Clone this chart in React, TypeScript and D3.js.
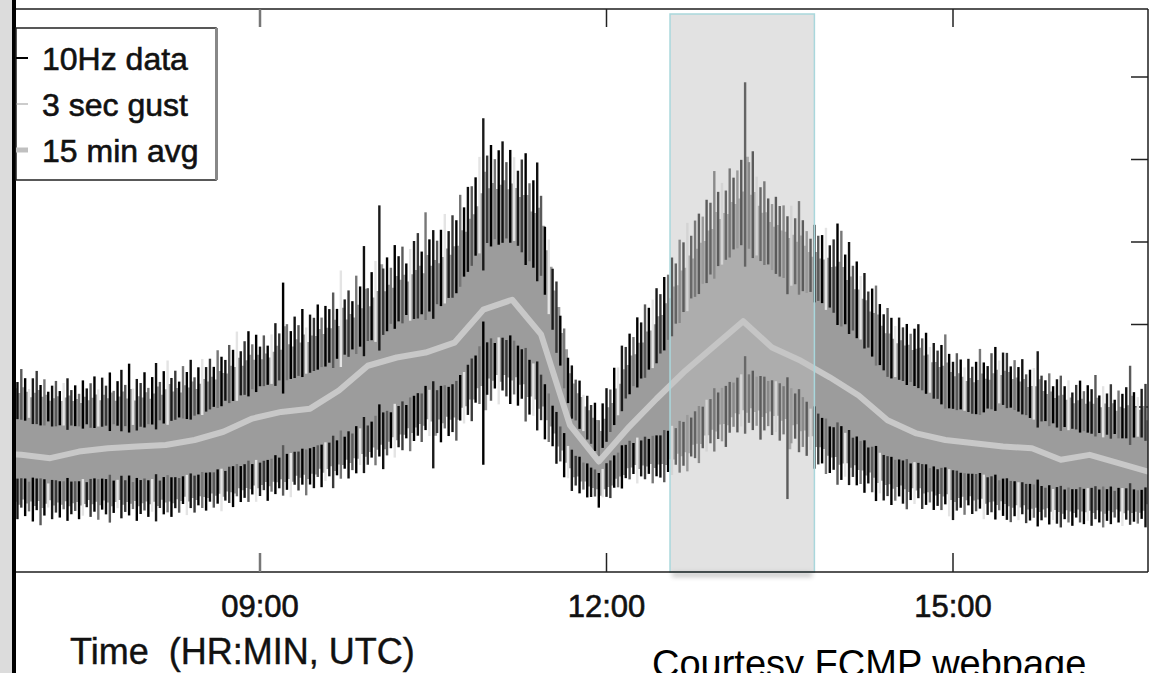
import React from "react";
import * as d3 from "d3";

const W = 1153;
const H = 673;

// ---- 15-minute series (UTC) ----
const avgTimes = [
  "06:41", "06:56", "07:11", "07:26", "07:41", "07:56", "08:11", "08:26", "08:41", "08:56",
  "09:11", "09:26", "09:41", "09:56", "10:11", "10:26", "10:41", "10:56", "11:11", "11:26",
  "11:41", "11:56", "12:11", "12:26", "12:41", "12:56", "13:11", "13:26", "13:41", "13:56",
  "14:11", "14:26", "14:41", "14:56", "15:11", "15:26", "15:41", "15:56", "16:11", "16:26",
  "16:41", "16:56",
];
// 15 min average wind speed
const avgSpeed = [
  7.2, 7.1, 6.9, 7.3, 7.5, 7.6, 7.7, 8.0, 8.5, 9.3,
  9.7, 9.9, 11.0, 12.5, 13.0, 13.3, 13.9, 15.9, 16.5, 14.4,
  8.9, 6.7, 8.7, 10.5, 12.2, 13.7, 15.2, 13.6, 12.8, 11.8,
  10.7, 9.2, 8.4, 8.0, 7.8, 7.6, 7.5, 6.8, 7.1, 6.6,
  6.1, 5.9,
];
// upper / lower envelope of the 10Hz data (15 min)
const upperEdge = [
  10.4, 10.3, 9.9, 9.8, 9.9, 9.8, 10.2, 10.5, 11.3, 12.1,
  12.7, 13.3, 14.1, 15.2, 16.5, 17.1, 18.3, 21.6, 21.9, 19.5,
  10.7, 8.0, 11.9, 14.1, 17.4, 19.8, 21.6, 19.8, 18.6, 17.4,
  15.6, 13.2, 12.5, 11.3, 10.7, 11.3, 10.4, 9.8, 9.5, 9.2,
  9.2, 9.2,
];
const lowerEdge = [
  4.8, 4.8, 4.7, 4.7, 4.8, 4.7, 4.8, 5.0, 5.3, 5.7,
  6.1, 6.5, 7.1, 7.9, 8.9, 9.8, 10.1, 12.5, 12.8, 10.7,
  6.5, 5.2, 6.9, 7.1, 8.0, 9.5, 10.7, 10.4, 9.5, 7.7,
  6.9, 5.9, 5.6, 5.2, 5.0, 4.7, 4.4, 4.2, 4.2, 4.2,
  4.1, 4.1,
];

// ---- 2-minute gust extremes, starting 06:52 UTC ----
const gustStart = "06:52";
const gustStepMin = 2;
// excursion above the upper envelope
const gustHigh = [
  1.8, 1.2, 2.0, 1.5, 0.9, 1.6, 2.1, 1.3, 1.7, 1.0,
  1.4, 1.7, 1.1, 1.6, 1.9, 1.2, 1.5, 1.0, 1.8, 1.3,
  1.6, 2.0, 1.2, 1.9, 1.4, 2.2, 1.1, 1.7, 2.4, 1.5,
  2.8, 1.3, 1.9, 1.6, 2.2, 1.2, 1.8, 2.6, 1.4, 2.0,
  2.6, 1.5, 1.9, 1.2, 2.1, 1.7, 2.4, 1.3, 1.8, 2.2,
  1.6, 2.0, 1.4, 2.3, 1.8, 1.5, 2.3, 1.9, 2.9, 1.6,
  2.1, 2.6, 1.7, 2.2, 1.4, 2.0, 1.3, 1.9, 2.5, 1.8,
  4.8, 2.2, 1.7, 2.5, 1.9, 2.8, 1.6, 2.3, 2.0, 2.7,
  1.8, 2.4, 2.1, 3.0, 1.9, 4.1, 2.2, 2.6, 1.8, 3.2,
  2.4, 4.7, 2.0, 2.8, 3.3, 6.5, 2.5, 3.0, 2.2, 3.4,
  2.6, 3.1, 2.0, 2.8, 3.2, 3.6, 2.4, 4.7, 2.9, 3.3,
  2.5, 3.0, 3.8, 2.6, 3.4, 2.8, 3.9, 2.7, 3.5, 3.1,
  3.2, 4.0, 5.9, 3.6, 4.2, 3.3, 3.8, 4.3, 3.0, 3.7,
  3.4, 2.9, 3.9, 4.6, 3.1, 3.6, 5.0, 3.3, 2.6, 3.0,
  2.4, 2.8, 1.9, 2.3, 1.7, 2.0, 1.5, 1.8, 1.3, 1.6,
  1.4, 1.9, 1.2, 1.7, 2.1, 1.5, 2.3, 1.8, 2.6, 2.0,
  2.4, 1.9, 2.8, 2.2, 3.0, 2.5, 2.7, 3.1, 2.3, 2.9,
  2.6, 3.2, 2.4, 3.4, 2.8, 3.6, 2.5, 3.1, 3.2, 2.7,
  3.4, 2.9, 4.5, 3.0, 3.3, 2.6, 3.7, 2.9, 3.1, 3.5,
  8.2, 3.6, 4.5, 3.2, 2.8, 3.4, 2.6, 2.5, 3.1, 2.7,
  2.9, 2.4, 3.2, 2.6, 3.8, 2.8, 2.3, 2.0, 3.0, 2.5,
  2.7, 3.3, 2.4, 3.0, 4.2, 4.0, 2.8, 3.8, 2.6, 3.1,
  2.5, 3.0, 2.2, 2.7, 3.2, 2.4, 2.1, 2.8, 2.3, 1.9,
  2.5, 2.0, 2.3, 1.8, 2.2, 2.6, 1.9, 2.4, 1.7, 2.1,
  1.8, 2.3, 3.1, 2.0, 1.6, 2.2, 1.9, 1.5, 2.1, 1.7,
  2.0, 2.7, 1.8, 1.5, 2.2, 2.5, 1.6, 2.0, 2.1, 1.4,
  1.9, 1.6, 2.2, 1.4, 1.8, 2.0, 3.1, 1.7, 1.5, 2.0,
  1.3, 1.8, 2.1, 1.5, 1.9, 1.2, 1.7, 2.0, 1.4, 1.8,
  1.6, 2.5, 1.3, 1.9, 1.5, 2.1, 1.2, 1.8, 1.6, 2.0,
  3.3, 1.7, 1.4, 1.9, 2.2,
];
// excursion below the lower envelope
const gustLow = [
  1.2, 1.6, 0.9, 1.4, 1.1, 1.7, 1.0, 1.9, 1.3, 0.8,
  1.5, 1.1, 1.4, 0.9, 1.6, 1.2, 1.0, 1.5, 1.3, 0.8,
  1.4, 1.1, 1.6, 1.0, 1.3, 1.8, 1.2, 0.9, 1.5, 1.1,
  1.3, 0.9, 1.6, 1.2, 1.0, 1.4, 1.1, 1.7, 0.9, 1.3,
  1.2, 1.5, 1.0, 1.3, 0.8, 1.5, 1.1, 1.4, 1.0, 1.2,
  1.4, 0.9, 1.3, 1.1, 1.6, 1.0, 1.2, 1.5, 0.9, 1.3,
  1.1, 1.4, 1.0, 1.5, 1.2, 0.9, 1.6, 1.1, 1.3, 1.0,
  1.5, 1.2, 1.7, 1.0, 1.4, 1.1, 1.8, 1.2, 1.5, 0.9,
  1.6, 1.3, 1.1, 1.9, 1.2, 1.5, 1.0, 1.7, 1.3, 1.6,
  1.2, 1.8, 1.4, 1.1, 1.7, 1.3, 2.2, 1.5, 1.2, 1.9,
  1.4, 1.7, 1.1, 2.0, 1.5, 1.3, 1.8, 1.2, 1.6, 3.6,
  1.5, 2.1, 1.3, 1.8, 1.6, 2.3, 1.4, 1.9, 1.7, 2.4,
  1.6, 2.0, 6.0, 1.8, 2.2, 1.5, 2.5, 1.7, 2.1, 2.6,
  1.9, 2.3, 1.6, 2.7, 2.0, 1.8, 2.4, 1.5, 2.1, 1.7,
  1.4, 1.9, 1.2, 1.6, 1.1, 1.5, 1.0, 1.3, 0.9, 1.2,
  1.0, 0.8, 1.3, 0.9, 1.1, 1.4, 1.0, 1.2, 1.5, 1.1,
  1.3, 1.0, 1.6, 1.2, 1.4, 1.1, 1.7, 1.3, 1.5, 1.9,
  1.4, 1.7, 1.2, 1.8, 1.5, 2.0, 1.3, 1.6, 2.1, 1.4,
  1.8, 1.5, 2.2, 1.6, 1.9, 2.4, 1.7, 1.5, 2.0, 1.8,
  2.3, 1.6, 2.0, 1.7, 2.5, 1.9, 1.6, 2.1, 1.8, 2.2,
  1.7, 5.5, 2.0, 1.6, 2.3, 1.8, 2.1, 1.5, 2.4, 1.9,
  1.6, 2.0, 1.7, 1.4, 2.2, 1.8, 1.5, 1.9, 1.3, 1.7,
  1.5, 1.9, 1.2, 1.6, 2.0, 1.4, 1.7, 1.3, 1.8, 1.5,
  1.2, 1.6, 1.9, 1.3, 1.5, 1.1, 1.7, 1.4, 1.2, 1.6,
  1.3, 1.5, 1.1, 1.8, 2.0, 1.4, 1.2, 1.6, 1.0, 1.5,
  1.3, 1.1, 1.7, 1.4, 1.2, 1.6, 1.0, 1.3, 1.5, 1.6,
  1.2, 1.4, 1.0, 1.5, 1.3, 1.1, 1.6, 1.2, 1.0, 1.4,
  1.1, 1.3, 1.5, 1.0, 1.2, 1.4, 0.9, 1.2, 1.3, 1.1,
  1.4, 1.0, 1.2, 1.5, 1.1, 1.3, 0.9, 1.2, 1.4, 1.0,
  1.3, 1.1, 1.2, 0.9, 1.4,
];

const xTickHours = [9, 12, 15];
const yTickValues = [5, 10, 15, 20, 25, 30];
const highlightWindow = ["12:33", "13:48"];
const legendItems = ["10Hz data", "3 sec gust", "15 min avg"];
const xTitle = "Time  (HR:MIN, UTC)";
const credit = "Courtesy FCMP webpage";

const toHours = (s: string) => {
  const [h, m] = s.split(":").map(Number);
  return h + m / 60;
};
const fmtHour = (h: number) => `${String(Math.floor(h)).padStart(2, "0")}:00`;

const FONT = "'Liberation Sans', Arial, Helvetica, sans-serif";

export default function App() {
  const left = 14;
  const right = 1148;
  const top = 9;
  const bottom = 572;

  const x = d3.scaleLinear().domain([9, 15]).range([260, 953]);
  const y = d3.scaleLinear().domain([0, 30]).range([bottom, 77]);

  const avgH = avgTimes.map(toHours);
  const upperAt = d3.scaleLinear<number>().domain(avgH).range(upperEdge);
  const lowerAt = d3.scaleLinear<number>().domain(avgH).range(lowerEdge);

  const g0 = toHours(gustStart);
  const gustT = gustHigh.map((_, i) => g0 + (i * gustStepMin) / 60);

  // base band (15 min envelopes)
  const band = d3
    .area<number>()
    .x((_, i) => x(avgH[i]))
    .y0((_, i) => y(lowerEdge[i]))
    .y1((_, i) => y(upperEdge[i]));
  // jagged band following the 2-min gust extremes
  const gustBand = d3
    .area<number>()
    .curve(d3.curveStepAfter)
    .x((t) => x(t))
    .y0((t, i) => y(lowerAt(t) - 0.45 * gustLow[i]))
    .y1((t, i) => y(upperAt(t) + 0.45 * gustHigh[i]));
  const avgLine = d3
    .line<number>()
    .x((_, i) => x(avgH[i]))
    .y((d) => y(d));

  const colors = ["#000", "#111", "#5a5a5a", "#000", "#e4e4e4", "#1a1a1a", "#3a3a3a", "#000", "#777"];

  const hx0 = x(toHours(highlightWindow[0]));
  const hx1 = x(toHours(highlightWindow[1]));

  const textStyle = { paintOrder: "stroke" as const };

  return (
    <svg
      width={W}
      height={H}
      style={{ position: "absolute", left: 0, top: 0, background: "#fff" }}
      fontFamily={FONT}
    >
      <defs>
        <clipPath id="plotClip">
          <rect x={left + 2} y={top} width={right - left - 2} height={bottom - top} />
        </clipPath>
        <filter id="blur3" x="-20%" y="-200%" width="140%" height="500%">
          <feGaussianBlur stdDeviation="2.5" />
        </filter>
      </defs>

      {/* left gray strip */}
      <rect x={0} y={0} width={12} height={H} fill="#dcdcdc" />

      {/* right y ticks */}
      {yTickValues.map((v) => (
        <line key={v} x1={right - 17} x2={right} y1={y(v)} y2={y(v)} stroke="#222" strokeWidth={1.5} />
      ))}

      <g clipPath="url(#plotClip)">
        <path d={band(upperEdge) || ""} fill="#9c9c9c" />
        <path d={gustBand(gustT) || ""} fill="#9c9c9c" />
        {gustT.map((t, i) => {
          const u = upperAt(t);
          const ex = gustHigh[i];
          const dpt = 0.25 * (ex + gustLow[i]) + 0.35;
          return (
            <line
              key={"u" + i}
              x1={x(t)}
              x2={x(t)}
              y1={y(u + ex)}
              y2={y(u - dpt)}
              stroke={colors[i % colors.length]}
              strokeWidth={2.4}
            />
          );
        })}
        {gustT.map((t, i) => {
          const l = lowerAt(t);
          const ex = gustLow[i];
          const dpt = 0.2 * (ex + gustHigh[i]) + 0.3;
          return (
            <line
              key={"l" + i}
              x1={x(t)}
              x2={x(t)}
              y1={y(l - ex)}
              y2={y(l + dpt)}
              stroke={colors[(i + 4) % colors.length]}
              strokeWidth={2.4}
            />
          );
        })}
        <path d={avgLine(avgSpeed) || ""} fill="none" stroke="#c8c8c8" strokeWidth={6} strokeLinejoin="round" />
      </g>

      {/* highlighted window */}
      <rect
        x={hx0 + 2}
        y={bottom}
        width={hx1 - hx0 - 4}
        height={5}
        fill="#000"
        opacity={0.22}
        filter="url(#blur3)"
      />
      <rect
        x={hx0}
        y={top + 5}
        width={hx1 - hx0}
        height={bottom - top - 5}
        fill="rgb(193,193,193)"
        fillOpacity={0.47}
        stroke="#a9d7dc"
        strokeWidth={1.5}
      />

      {/* frame */}
      <line x1={left} x2={right} y1={top} y2={top} stroke="#1e1e1e" strokeWidth={1.5} />
      <line x1={right} x2={right} y1={top} y2={bottom} stroke="#1e1e1e" strokeWidth={1.5} />
      <line x1={left} x2={right} y1={bottom} y2={bottom} stroke="#1e1e1e" strokeWidth={1.5} />
      <rect x={12} y={0} width={4} height={H} fill="#000" />

      {/* x ticks top & bottom */}
      {xTickHours.map((h, i) => (
        <g key={h}>
          <line
            x1={x(h)}
            x2={x(h)}
            y1={top}
            y2={top + 18}
            stroke={i === 0 ? "#777" : "#222"}
            strokeWidth={i === 0 ? 2.5 : 1.5}
          />
          <line
            x1={x(h)}
            x2={x(h)}
            y1={bottom}
            y2={bottom - 19}
            stroke={i === 0 ? "#777" : "#222"}
            strokeWidth={i === 0 ? 2.5 : 1.5}
          />
          <text
            x={x(h)}
            y={617}
            textAnchor="middle"
            fontSize={31}
            fill="#111"
            stroke="#111"
            strokeWidth={0.6}
            style={textStyle}
          >
            {fmtHour(h)}
          </text>
        </g>
      ))}

      {/* legend */}
      <g>
        <rect x={16} y={28} width={200} height={152} fill="#fff" stroke="#222" strokeWidth={1.5} />
        <line x1={216.5} x2={216.5} y1={28} y2={180} stroke="#888" strokeWidth={3} />
        <line x1={16} x2={28} y1={58} y2={58} stroke="#000" strokeWidth={2} />
        <line x1={16} x2={28} y1={104} y2={104} stroke="#999" strokeWidth={1} />
        <line x1={16} x2={28} y1={150} y2={150} stroke="#c0c0c0" strokeWidth={5} />
        {legendItems.map((s, i) => (
          <text
            key={s}
            x={42}
            y={70 + i * 46}
            fontSize={32}
            fill="#111"
            stroke="#111"
            strokeWidth={0.6}
            style={textStyle}
          >
            {s}
          </text>
        ))}
      </g>

      <text
        x={70}
        y={664}
        fontSize={36}
        fill="#111"
        stroke="#111"
        strokeWidth={0.4}
        style={{ whiteSpace: "pre", paintOrder: "stroke" }}
      >
        {xTitle}
      </text>
      <text x={652} y={677} fontSize={38} fill="#000">
        {credit}
      </text>
    </svg>
  );
}
